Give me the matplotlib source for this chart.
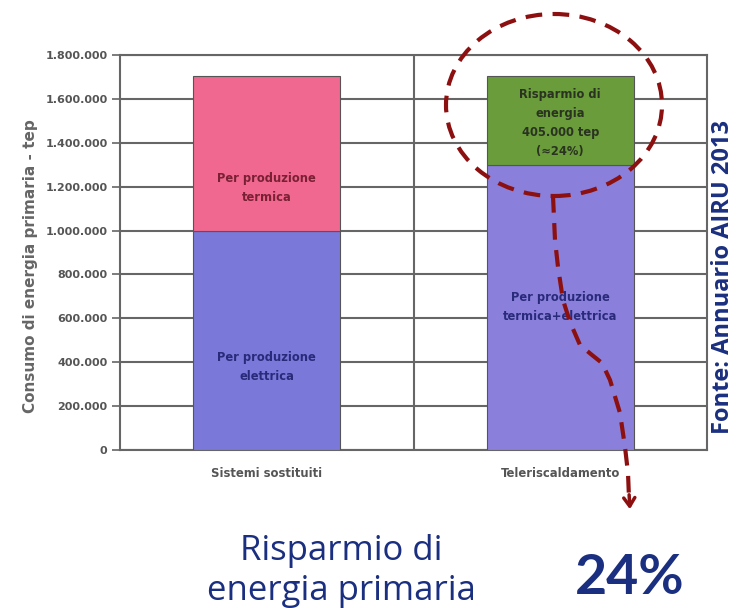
import numpy as np
import matplotlib.pyplot as plt
from matplotlib.lines import Line2D
from matplotlib.patches import Ellipse, FancyArrowPatch
from matplotlib.ticker import FuncFormatter

# ---- data -------------------------------------------------------------
categories = ['Sistemi sostituiti', 'Teleriscaldamento']
base_values = [1000000, 1300000]
top_values = [705000, 405000]
base_labels = ['Per produzione\nelettrica', 'Per produzione\ntermica+elettrica']
top_labels = ['Per produzione\ntermica', 'Risparmio di\nenergia\n405.000 tep\n(≈24%)']
base_label_y = [378000, 652000]
top_label_y = [1195000, 1490000]
yticks = np.arange(0, 1800001, 200000)

base_colors = ['#7a78d8', '#8a80dc']
top_colors = ['#f0688f', '#6a9c3c']
top_text_colors = ['#7a2035', '#2a3320']
base_text_color = '#2a2a7a'
red = '#8c1010'
navy = '#1b2f80'

W, H = 737, 608
fig = plt.figure(figsize=(W / 100, H / 100), dpi=100)
ax = fig.add_axes([120 / W, 1 - 450 / H, 587 / W, 395 / H])

x = np.arange(len(categories))
ax.bar(x, base_values, width=0.5, color=base_colors, edgecolor='#555555', linewidth=0.8, zorder=3)
ax.bar(x, top_values, bottom=base_values, width=0.5, color=top_colors,
       edgecolor='#555555', linewidth=0.8, zorder=3)

for i in range(len(categories)):
    ax.text(x[i], base_label_y[i], base_labels[i], ha='center', va='center', fontsize=8.3,
            fontweight='bold', color=base_text_color, zorder=4, linespacing=1.6)
    ax.text(x[i], top_label_y[i], top_labels[i], ha='center', va='center', fontsize=8.3,
            fontweight='bold', color=top_text_colors[i], zorder=4, linespacing=1.6)

ax.set_xlim(-0.5, 1.5)
ax.set_ylim(0, 1800000)
ax.set_yticks(yticks)
ax.yaxis.set_major_formatter(FuncFormatter(lambda v, p: f'{int(v):,}'.replace(',', '.')))
ax.set_xticks(x)
ax.set_xticklabels(categories)
ax.grid(axis='y', color='#666666', linewidth=1.5, zorder=1)
ax.axvline(0.5, color='#666666', linewidth=1.5, zorder=1)
for s in ['left', 'right', 'top', 'bottom']:
    ax.spines[s].set_color('#666666')
    ax.spines[s].set_linewidth(1.5)
ax.tick_params(axis='y', length=6, width=1.2, color='#666666', labelsize=8, labelcolor='#555555', pad=3)
ax.tick_params(axis='x', length=0, labelsize=8.4, labelcolor='#555555', pad=12)
for lab in ax.get_yticklabels() + ax.get_xticklabels():
    lab.set_fontweight('bold')
ax.set_ylabel('Consumo di energia primaria - tep', fontsize=11, fontweight='bold', color='#666666')
ax.yaxis.set_label_coords(-0.14, 0.466)

# ---- annotation overlay ----------------------------------------------
def fx(px):
    return px / W

def fy(py):
    return 1 - py / H

circle = Ellipse((fx(554), fy(105)), 216 / W, 182 / H, transform=fig.transFigure,
                 fill=False, edgecolor=red, linewidth=3, linestyle=(0, (4, 2.5)), zorder=10)
fig.add_artist(circle)

path_px = [553, 555, 558, 563, 570, 580, 592, 602, 610, 620, 625, 628, 629]
path_py = [196, 240, 267, 300, 322, 345, 355, 363, 380, 413, 447, 473, 498]
fig.add_artist(Line2D([fx(p) for p in path_px], [fy(p) for p in path_py], transform=fig.transFigure,
                      color=red, linewidth=3, linestyle=(0, (4, 2.5)), zorder=10))
fig.add_artist(FancyArrowPatch((fx(629), fy(492)), (fx(630), fy(512)), transform=fig.transFigure,
                               arrowstyle='->,head_length=6,head_width=4', color=red,
                               linewidth=2.5, zorder=10))

fig.text(fx(723), fy(277), 'Fonte: Annuario AIRU 2013', rotation=90, ha='center', va='center',
         fontsize=17, fontweight='bold', color=navy, family='Open Sans')
fig.text(fx(341), fy(560), 'Risparmio di', ha='center', va='baseline',
         fontsize=25, color=navy, family='Open Sans')
fig.text(fx(341), fy(600), 'energia primaria', ha='center', va='baseline',
         fontsize=25, color=navy, family='Open Sans')
fig.text(fx(630), fy(594), '24%', ha='center', va='baseline', fontsize=40,
         fontweight='bold', color=navy, family='Lato')

fig.savefig('out.png', dpi=100)
